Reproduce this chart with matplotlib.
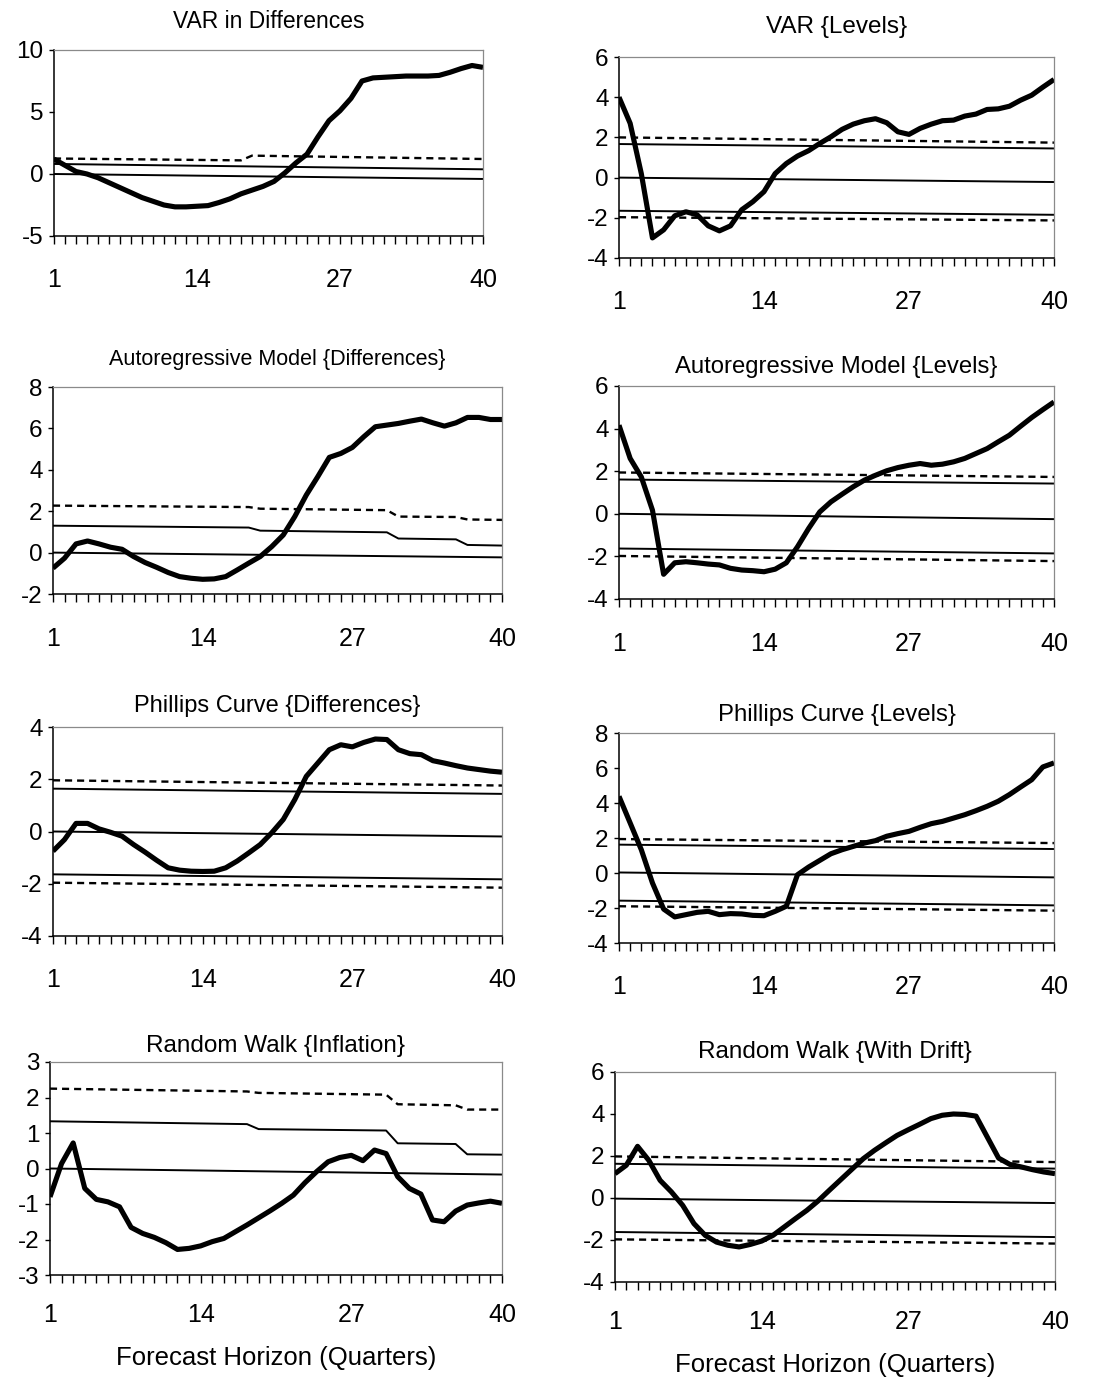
import matplotlib
matplotlib.use("Agg")
import matplotlib.pyplot as plt
import numpy as np

plt.rcParams["font.family"] = ["Liberation Sans", "DejaVu Sans"]
plt.rcParams["axes.unicode_minus"] = False

horizon = np.arange(1, 41)
x_ticks = [1, 14, 27, 40]

# cumulative test statistic by forecast horizon
var_diff = [1.2, 0.7, 0.2, 0.0, -0.3, -0.7, -1.1, -1.5, -1.9, -2.2,
            -2.5, -2.65, -2.65, -2.6, -2.55, -2.3, -2.0, -1.6, -1.3, -1.0,
            -0.6, 0.1, 0.9, 1.6, 3.0, 4.3, 5.1, 6.1, 7.5, 7.75,
            7.8, 7.85, 7.9, 7.9, 7.9, 7.95, 8.2, 8.5, 8.75, 8.6]
var_lev = [4.0, 2.7, 0.2, -3.0, -2.6, -1.9, -1.7, -1.85, -2.4, -2.65,
           -2.4, -1.6, -1.2, -0.7, 0.2, 0.7, 1.07, 1.34, 1.7, 2.03,
           2.4, 2.66, 2.83, 2.93, 2.73, 2.28, 2.15, 2.45, 2.66, 2.83,
           2.86, 3.06, 3.16, 3.39, 3.42, 3.55, 3.85, 4.1, 4.5, 4.88]
ar_diff = [-0.75, -0.27, 0.42, 0.56, 0.42, 0.26, 0.16, -0.19, -0.48, -0.71,
           -0.96, -1.16, -1.24, -1.29, -1.27, -1.16, -0.84, -0.51, -0.19, 0.29,
           0.85, 1.74, 2.78, 3.67, 4.6, 4.79, 5.08, 5.6, 6.08, 6.16,
           6.24, 6.35, 6.45, 6.27, 6.11, 6.27, 6.53, 6.53, 6.43, 6.43]
ar_lev = [4.16, 2.6, 1.73, 0.17, -2.84, -2.3, -2.25, -2.3, -2.36, -2.4,
          -2.56, -2.64, -2.67, -2.72, -2.6, -2.3, -1.55, -0.69, 0.09, 0.56,
          0.92, 1.27, 1.58, 1.81, 2.02, 2.17, 2.28, 2.36, 2.28, 2.33,
          2.44, 2.6, 2.83, 3.06, 3.38, 3.69, 4.11, 4.52, 4.89, 5.25]
pc_diff = [-0.75, -0.31, 0.31, 0.31, 0.1, -0.03, -0.18, -0.5, -0.79, -1.1,
           -1.39, -1.48, -1.52, -1.53, -1.52, -1.39, -1.13, -0.82, -0.5, -0.05,
           0.46, 1.22, 2.11, 2.62, 3.13, 3.32, 3.24, 3.41, 3.54, 3.52,
           3.13, 2.98, 2.94, 2.71, 2.62, 2.52, 2.43, 2.37, 2.31, 2.27]
pc_lev = [4.38, 2.86, 1.33, -0.57, -2.06, -2.51, -2.38, -2.25, -2.19, -2.38,
          -2.32, -2.34, -2.42, -2.44, -2.19, -1.9, -0.1, 0.34, 0.72, 1.1,
          1.33, 1.52, 1.71, 1.85, 2.1, 2.25, 2.38, 2.61, 2.82, 2.95,
          3.14, 3.33, 3.56, 3.81, 4.1, 4.48, 4.91, 5.33, 6.06, 6.29]
rw_inf = [-0.8, 0.14, 0.72, -0.56, -0.87, -0.94, -1.08, -1.66, -1.83, -1.94,
          -2.09, -2.28, -2.25, -2.18, -2.06, -1.97, -1.78, -1.59, -1.39, -1.19,
          -0.98, -0.75, -0.4, -0.09, 0.19, 0.31, 0.37, 0.22, 0.52, 0.42,
          -0.23, -0.56, -0.72, -1.45, -1.5, -1.2, -1.03, -0.97, -0.92, -0.98]
rw_drift = [1.16, 1.56, 2.46, 1.79, 0.84, 0.29, -0.35, -1.22, -1.78, -2.1,
            -2.25, -2.33, -2.21, -2.05, -1.78, -1.38, -0.98, -0.59, -0.14, 0.37,
            0.87, 1.37, 1.87, 2.27, 2.63, 2.98, 3.25, 3.51, 3.78, 3.94,
            4.0, 3.98, 3.9, 2.9, 1.9, 1.6, 1.48, 1.35, 1.24, 1.16]

# critical-value lines: (horizons, values) as drawn on the (slightly skewed) scan
step_h = [1, 18, 19, 30, 31, 36, 37, 40]
var_diff_ref = {
    "dashed": ([1, 18, 19, 40], [1.25, 1.10, 1.48, 1.21]),
    "solid": ([1, 40], [0.81, 0.38]),
    "zero": ([1, 40], [0.0, -0.40]),
}
var_lev_ref = {
    "dashed": ([1, 40], [2.00, 1.74]),
    "solid": ([1, 40], [1.67, 1.45]),
    "zero": ([1, 40], [0.0, -0.22]),
    "solid_lo": ([1, 40], [-1.65, -1.85]),
    "dashed_lo": ([1, 40], [-1.97, -2.13]),
}
ar_diff_ref = {
    "dashed": (step_h, [2.27, 2.20, 2.12, 2.05, 1.74, 1.72, 1.60, 1.58]),
    "solid": (step_h, [1.30, 1.21, 1.06, 0.98, 0.68, 0.64, 0.37, 0.34]),
    "zero": ([1, 40], [0.0, -0.23]),
}
ar_lev_ref = {
    "dashed": ([1, 40], [1.94, 1.73]),
    "solid": ([1, 40], [1.61, 1.42]),
    "zero": ([1, 40], [0.0, -0.25]),
    "solid_lo": ([1, 40], [-1.63, -1.86]),
    "dashed_lo": ([1, 40], [-1.98, -2.22]),
}
pc_diff_ref = {
    "dashed": ([1, 40], [1.96, 1.76]),
    "solid": ([1, 40], [1.64, 1.44]),
    "zero": ([1, 40], [0.0, -0.19]),
    "solid_lo": ([1, 40], [-1.64, -1.83]),
    "dashed_lo": ([1, 40], [-1.96, -2.15]),
}
pc_lev_ref = {
    "dashed": ([1, 40], [1.94, 1.71]),
    "solid": ([1, 40], [1.62, 1.37]),
    "zero": ([1, 40], [0.03, -0.25]),
    "solid_lo": ([1, 40], [-1.58, -1.85]),
    "dashed_lo": ([1, 40], [-1.90, -2.15]),
}
rw_inf_ref = {
    "dashed": (step_h, [2.25, 2.17, 2.13, 2.08, 1.81, 1.78, 1.66, 1.66]),
    "solid": (step_h, [1.33, 1.25, 1.11, 1.07, 0.71, 0.69, 0.40, 0.39]),
    "zero": ([1, 40], [0.0, -0.17]),
}
rw_drift_ref = {
    "dashed": ([1, 40], [1.98, 1.71]),
    "solid": ([1, 40], [1.63, 1.40]),
    "zero": ([1, 40], [-0.03, -0.24]),
    "solid_lo": ([1, 40], [-1.62, -1.86]),
    "dashed_lo": ([1, 40], [-1.97, -2.17]),
}

titles = [
    "VAR in Differences", "VAR {Levels}",
    "Autoregressive Model {Differences}", "Autoregressive Model {Levels}",
    "Phillips Curve {Differences}", "Phillips Curve {Levels}",
    "Random Walk {Inflation}", "Random Walk {With Drift}",
]
series = [var_diff, var_lev, ar_diff, ar_lev, pc_diff, pc_lev, rw_inf, rw_drift]
refs = [var_diff_ref, var_lev_ref, ar_diff_ref, ar_lev_ref,
        pc_diff_ref, pc_lev_ref, rw_inf_ref, rw_drift_ref]
y_ranges = [(-5, 10, 5), (-4, 6, 2), (-2, 8, 2), (-4, 6, 2),
            (-4, 4, 2), (-4, 8, 2), (-3, 3, 1), (-4, 6, 2)]

# layout: axes boxes in pixels (left, right, top, bottom), title pads and sizes
W, H = 1104, 1382
boxes = [
    (54, 483, 50, 236), (619, 1054, 57, 258),
    (53, 502, 387, 594), (619, 1054, 386, 599),
    (53, 502, 727, 936), (619, 1054, 733, 943),
    (50, 502, 1062, 1275), (615, 1055, 1072, 1282),
]
title_pads = [15.5, 17, 15.5, 9, 10.5, 9, 7, 10]
title_sizes = [16.5, 17.5, 15.5, 17.2, 17, 17.2, 17.5, 17.5]
xtick_pads = [17.5, 17.5, 18.5, 18.5, 17.5, 17.5, 14.5, 14.5]

fig = plt.figure(figsize=(W / 100, H / 100), dpi=100)

for i in range(8):
    l, r, t, b = boxes[i]
    ax = fig.add_axes([l / W, 1 - b / H, (r - l) / W, (b - t) / H])
    for key, (hs, vals) in refs[i].items():
        if key.startswith("dashed"):
            ax.plot(hs, vals, color="black", lw=1.7, dashes=(3.0, 2.1))
        else:
            ax.plot(hs, vals, color="black", lw=1.4)
    ax.plot(horizon, series[i], color="black", lw=3.7,
            solid_joinstyle="round", solid_capstyle="butt")

    lo, hi, step = y_ranges[i]
    ax.set_ylim(lo, hi)
    ax.set_yticks(np.arange(lo, hi + step / 2, step))
    ax.set_xlim(1, 40)
    ax.set_xticks(x_ticks)
    ax.set_xticks(horizon, minor=True)
    ax.tick_params(axis="x", which="both", direction="out", length=5.5,
                   width=1, pad=xtick_pads[i], labelsize=18)
    ax.tick_params(axis="y", direction="out", length=3.5, width=1,
                   pad=4, labelsize=17.5)
    for side in ("top", "right"):
        ax.spines[side].set_color("#8a8a8a")
        ax.spines[side].set_linewidth(0.9)
    for side in ("left", "bottom"):
        ax.spines[side].set_linewidth(1.1)
    ax.set_title(titles[i], fontsize=title_sizes[i], pad=title_pads[i])
    if i >= 6:
        ax.set_xlabel("Forecast Horizon (Quarters)", fontsize=18.5, labelpad=14)

fig.savefig("out.png", dpi=100)
